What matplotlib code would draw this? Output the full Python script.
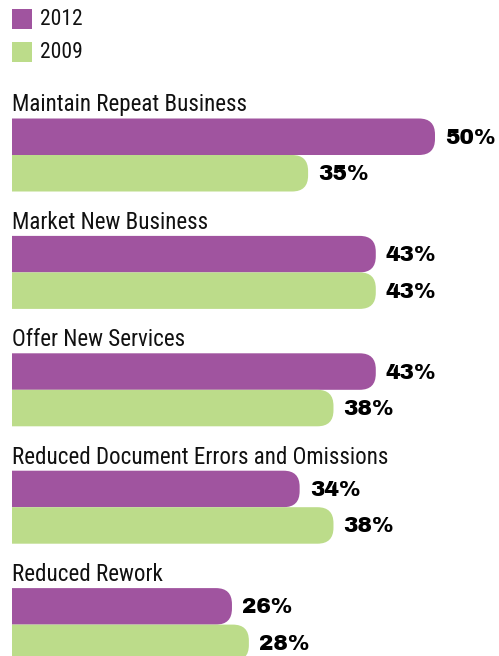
import matplotlib
matplotlib.use("Agg")
import matplotlib.pyplot as plt
from matplotlib.patches import FancyBboxPatch, Rectangle

categories = ["Maintain Repeat Business", "Market New Business", "Offer New Services",
              "Reduced Document Errors and Omissions", "Reduced Rework"]
series_names = ["2012", "2009"]
values_2012 = [50, 43, 43, 34, 26]
values_2009 = [35, 43, 38, 38, 28]
colors = ["#A0549F", "#BCDC8A"]

W, H = 499, 656
PX = 8.46          # pixels per percentage point
LEFT = 12          # left edge of bars (px)
fig = plt.figure(figsize=(W / 100, H / 100), dpi=100)
ax = fig.add_axes([LEFT / W, 0, (W - LEFT) / W, 1])
ax.set_xlim(0, (W - LEFT) / PX)
ax.set_ylim(H, 0)
ax.axis("off")

label_font = ["Roboto Condensed", "DejaVu Sans"]
value_font = ["Archivo Black", "DejaVu Sans"]
label_size = 16.6
legend_size = 15.5
value_size = 15.6

GROUP0 = 118.5
GROUP_STEP = 117.4
BAR_H = 36.5
RAD = 16  # px

for i, cat in enumerate(categories):
    top = GROUP0 + i * GROUP_STEP
    ax.text(0, top - 7, cat, fontsize=label_size, family=label_font,
            va="baseline", ha="left", color="#111111", clip_on=False)
    for j, vals in enumerate([values_2012, values_2009]):
        v = vals[i]
        y = top + j * BAR_H
        start = -3
        patch = FancyBboxPatch((start, y), v - start, BAR_H,
                               boxstyle=f"round,pad=0,rounding_size={RAD / PX}",
                               mutation_aspect=PX,
                               facecolor=colors[j], edgecolor="none")
        ax.add_patch(patch)
        ax.text(v + 10 / PX, y + BAR_H / 2 + 1, f"{v}%", fontsize=value_size,
                family=value_font, va="center", ha="left",
                color="black", clip_on=False)

# legend
for j, name in enumerate(series_names):
    y = 9 + j * 33
    ax.add_patch(Rectangle((0, y), 20 / PX, 20, facecolor=colors[j], edgecolor="none",
                           clip_on=False))
    ax.text(28 / PX, y + 10.5, name, fontsize=legend_size, family=label_font,
            va="center", ha="left", color="#111111", clip_on=False)

fig.savefig("out.png", dpi=100)
